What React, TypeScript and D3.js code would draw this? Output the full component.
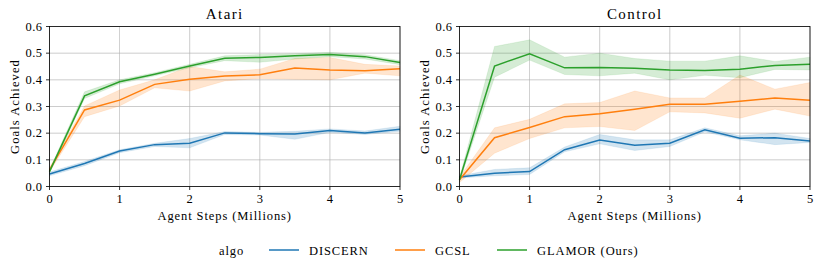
import React from "react";
import * as d3 from "d3";

const steps = [0, 0.5, 1, 1.5, 2, 2.5, 3, 3.5, 4, 4.5, 5];
const algos = ["DISCERN", "GCSL", "GLAMOR (Ours)"];
const colors = ["#1f77b4", "#ff7f0e", "#2ca02c"];
const yTicks = [0, 0.1, 0.2, 0.3, 0.4, 0.5, 0.6];
const xTicks = [0, 1, 2, 3, 4, 5];

// Atari
const atariDiscern = [0.047, 0.086, 0.133, 0.157, 0.162, 0.201, 0.198, 0.197, 0.21, 0.201, 0.215];
const atariDiscernLo = [0.04, 0.078, 0.127, 0.15, 0.145, 0.195, 0.193, 0.177, 0.203, 0.195, 0.207];
const atariDiscernHi = [0.054, 0.094, 0.138, 0.162, 0.18, 0.206, 0.203, 0.207, 0.216, 0.208, 0.226];
const atariGcsl = [0.062, 0.287, 0.324, 0.383, 0.402, 0.414, 0.419, 0.444, 0.437, 0.434, 0.442];
const atariGcslLo = [0.055, 0.262, 0.302, 0.37, 0.358, 0.396, 0.405, 0.402, 0.4, 0.425, 0.415];
const atariGcslHi = [0.07, 0.302, 0.362, 0.4, 0.45, 0.43, 0.44, 0.48, 0.484, 0.458, 0.452];
const atariGlamor = [0.056, 0.34, 0.393, 0.421, 0.452, 0.481, 0.484, 0.49, 0.495, 0.487, 0.465];
const atariGlamorLo = [0.05, 0.33, 0.385, 0.415, 0.445, 0.472, 0.466, 0.478, 0.487, 0.478, 0.457];
const atariGlamorHi = [0.062, 0.355, 0.4, 0.427, 0.458, 0.49, 0.495, 0.498, 0.503, 0.494, 0.472];

// Control
const ctrlDiscern = [0.036, 0.05, 0.056, 0.138, 0.174, 0.155, 0.162, 0.213, 0.181, 0.183, 0.171];
const ctrlDiscernLo = [0.032, 0.04, 0.045, 0.13, 0.16, 0.135, 0.15, 0.205, 0.175, 0.157, 0.165];
const ctrlDiscernHi = [0.04, 0.064, 0.07, 0.148, 0.195, 0.175, 0.175, 0.22, 0.19, 0.2, 0.18];
const ctrlGcsl = [0.025, 0.183, 0.221, 0.262, 0.273, 0.29, 0.308, 0.308, 0.32, 0.332, 0.323];
const ctrlGcslLo = [0.015, 0.125, 0.18, 0.22, 0.225, 0.21, 0.28, 0.276, 0.256, 0.29, 0.264];
const ctrlGcslHi = [0.035, 0.22, 0.252, 0.31, 0.315, 0.358, 0.332, 0.332, 0.418, 0.365, 0.39];
const ctrlGlamor = [0.025, 0.452, 0.498, 0.445, 0.446, 0.443, 0.437, 0.435, 0.44, 0.454, 0.458];
const ctrlGlamorLo = [0.018, 0.41, 0.474, 0.42, 0.415, 0.425, 0.4, 0.417, 0.408, 0.439, 0.437];
const ctrlGlamorHi = [0.032, 0.525, 0.55, 0.485, 0.5, 0.48, 0.47, 0.47, 0.49, 0.469, 0.485];

const panels = [
  {
    title: "Atari",
    series: [
      [atariDiscern, atariDiscernLo, atariDiscernHi],
      [atariGcsl, atariGcslLo, atariGcslHi],
      [atariGlamor, atariGlamorLo, atariGlamorHi],
    ],
  },
  {
    title: "Control",
    series: [
      [ctrlDiscern, ctrlDiscernLo, ctrlDiscernHi],
      [ctrlGcsl, ctrlGcslLo, ctrlGcslHi],
      [ctrlGlamor, ctrlGlamorLo, ctrlGlamorHi],
    ],
  },
];

const W = 822;
const H = 272;
const font = "Liberation Serif, serif";
const plotTop = 26.5;
const plotBottom = 186.5;
const plotLefts = [49.5, 459.5];
const plotWidth = 350.5;

const Panel = ({ panel, left }) => {
  const x = d3.scaleLinear().domain([0, 5]).range([left, left + plotWidth]);
  const y = d3.scaleLinear().domain([0, 0.6]).range([plotBottom, plotTop]);
  const line = d3
    .line<number>()
    .x((_, i) => x(steps[i]))
    .y((d) => y(d));
  const band = (lo: number[], hi: number[]) =>
    d3
      .area<number>()
      .x((_, i) => x(steps[i]))
      .y0((_, i) => y(lo[i]))
      .y1((_, i) => y(hi[i]))(lo);

  return (
    <g>
      {/* grid */}
      {xTicks.map((t) => (
        <line key={"gx" + t} x1={x(t)} x2={x(t)} y1={plotTop} y2={plotBottom} stroke="#b0b0b0" strokeWidth={0.8} opacity={0.8} />
      ))}
      {yTicks.map((t) => (
        <line key={"gy" + t} x1={left} x2={left + plotWidth} y1={y(t)} y2={y(t)} stroke="#b0b0b0" strokeWidth={0.8} opacity={0.8} />
      ))}
      {panel.series.map((s, i) => (
        <path key={"b" + i} d={band(s[1], s[2]) || ""} fill={colors[i]} fillOpacity={0.2} stroke={colors[i]} strokeOpacity={0.2} strokeWidth={0.5} />
      ))}
      {panel.series.map((s, i) => (
        <path key={"l" + i} d={line(s[0]) || ""} fill="none" stroke={colors[i]} strokeWidth={1.5} />
      ))}
      <rect x={left} y={plotTop} width={plotWidth} height={plotBottom - plotTop} fill="none" stroke="#000" strokeWidth={0.8} />
      {xTicks.map((t) => (
        <g key={"tx" + t}>
          <line x1={x(t)} x2={x(t)} y1={plotBottom} y2={plotBottom + 3.5} stroke="#000" strokeWidth={0.8} />
          <text x={x(t)} y={plotBottom + 16.5} textAnchor="middle" fontSize={12.5} fontFamily={font}>
            {t}
          </text>
        </g>
      ))}
      {yTicks.map((t) => (
        <g key={"ty" + t}>
          <line x1={left - 3.5} x2={left} y1={y(t)} y2={y(t)} stroke="#000" strokeWidth={0.8} />
          <text x={left - 7} y={y(t) + 4} textAnchor="end" fontSize={12.5} letterSpacing={0.5} fontFamily={font}>
            {d3.format(".1f")(t)}
          </text>
        </g>
      ))}
      <text x={left + plotWidth / 2} y={18.5} textAnchor="middle" fontSize={15} letterSpacing={1.4} fontFamily={font}>
        {panel.title}
      </text>
      <text x={left + plotWidth / 2} y={220} textAnchor="middle" fontSize={12.5} letterSpacing={0.9} fontFamily={font}>
        Agent Steps (Millions)
      </text>
      <text
        transform={`translate(${left - 31},${(plotTop + plotBottom) / 2}) rotate(-90)`}
        textAnchor="middle"
        fontSize={12.5}
        letterSpacing={1.1}
        fontFamily={font}
      >
        Goals Achieved
      </text>
    </g>
  );
};

const legendX = [269, 395, 497];

export default function App() {
  return (
    <svg width={W} height={H} style={{ position: "absolute", left: 0, top: 0 }}>
      <rect width={W} height={H} fill="#fff" />
      {panels.map((p, i) => (
        <Panel key={p.title} panel={p} left={plotLefts[i]} />
      ))}
      <text x={219} y={255} fontSize={12.5} letterSpacing={0.9} fontFamily={font}>
        algo
      </text>
      {algos.map((a, i) => (
        <g key={a}>
          <line x1={legendX[i]} x2={legendX[i] + 30} y1={250} y2={250} stroke={colors[i]} strokeWidth={1.5} />
          <text x={legendX[i] + 40} y={255} fontSize={12.5} letterSpacing={0.9} fontFamily={font}>
            {a}
          </text>
        </g>
      ))}
    </svg>
  );
}
